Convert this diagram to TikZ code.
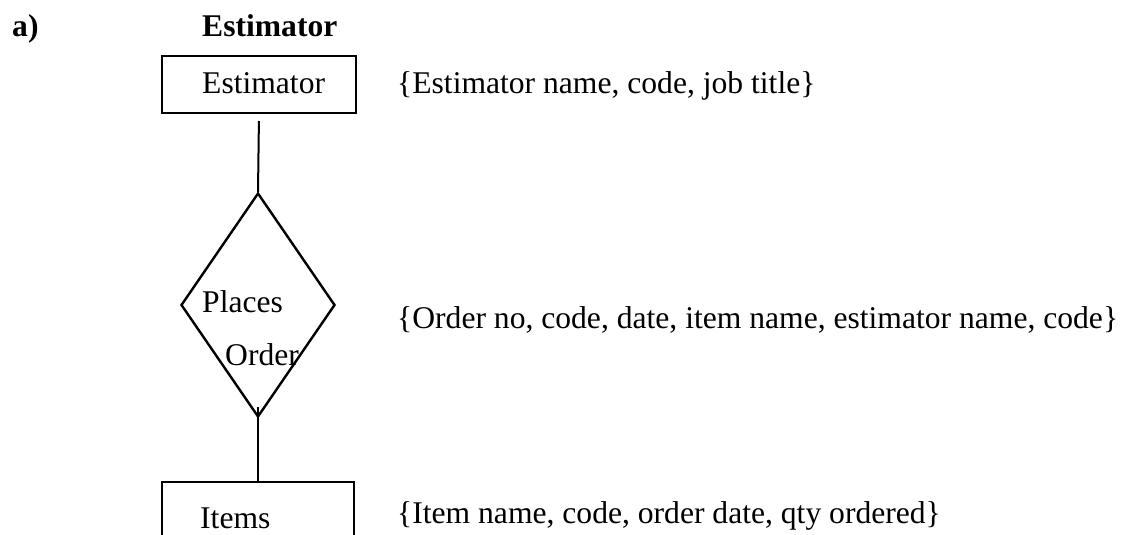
\documentclass[tikz,border=0pt]{standalone}
\usepackage{fontspec}
\setmainfont{Liberation Serif}
\usetikzlibrary{shapes.geometric}
\tikzset{
  entity/.style={draw, line width=2pt, rectangle, inner sep=0pt},
  relation/.style={draw, line width=2.4pt, diamond, inner sep=0pt, minimum width=154pt, minimum height=224pt},
  link/.style={line width=2pt},
  txt/.style={anchor=base west, inner sep=0pt, font=\fontsize{31.6}{38}\selectfont},
  btxt/.style={anchor=base west, inner sep=0pt, font=\fontsize{31.6}{38}\selectfont\bfseries},
}
\begin{document}
\begin{tikzpicture}[x=1pt,y=-1pt]
\useasboundingbox (0,0) rectangle (1129,535);
\clip (0,0) rectangle (1129,535);
% headings
\node[btxt] (lbl) at (12,37) {a)};
\node[btxt] (title) at (202,37) {Estimator};
% entities and relation
\node[entity, minimum width=194pt, minimum height=57pt] (est) at (259,84.5) {};
\node[txt] (esttxt) at (202,93) {Estimator};
\node[relation] (rel) at (258,305) {};
\node[txt] (places) at (202,312) {Places};
\node[txt] (order) at (225,365) {Order};
\node[entity, minimum width=192pt, minimum height=100pt] (items) at (258,532) {};
\node[txt] (itemstxt) at (200,528) {Items};
\coordinate (inrel) at (258,407);
% connectors
\draw[link, shorten <=7pt] (est.south) -- (rel.north);
\draw[link] (items.north) -- (inrel);
% attributes
\node[txt] (a1) at (397,93) {\{Estimator name, code, job title\}};
\node[txt] (a2) at (397,328) {\{Order no, code, date, item name, estimator name, code\}};
\node[txt] (a3) at (397,523) {\{Item name, code, order date, qty ordered\}};
\end{tikzpicture}
\end{document}
